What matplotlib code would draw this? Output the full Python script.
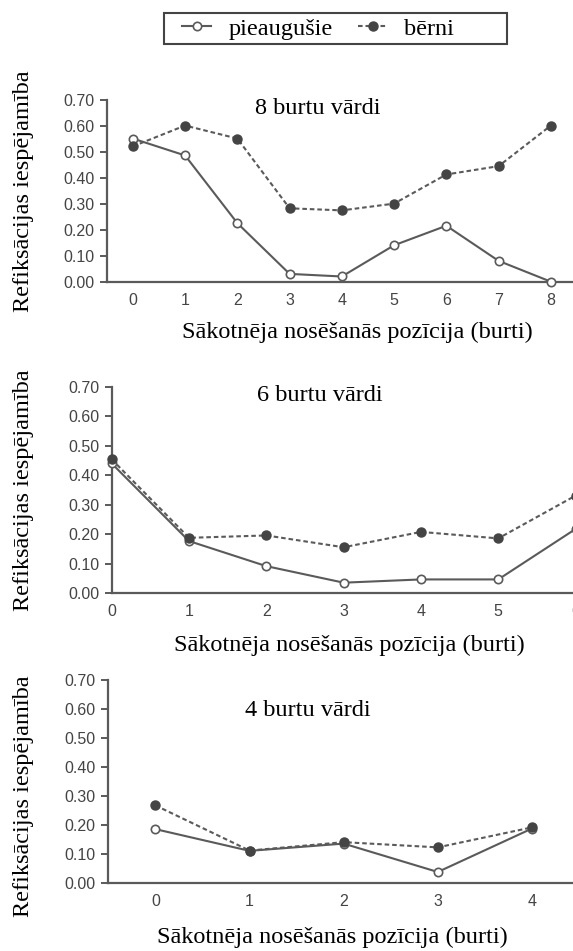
import matplotlib.pyplot as plt
from matplotlib.patches import Rectangle
from matplotlib.lines import Line2D

W, H = 573, 951

titles = ['8 burtu vārdi', '6 burtu vārdi', '4 burtu vārdi']
positions = [list(range(9)), list(range(7)), list(range(5))]
pieaugusie = [
    [0.55, 0.485, 0.225, 0.03, 0.02, 0.14, 0.215, 0.08, 0.0],
    [0.44, 0.177, 0.092, 0.036, 0.047, 0.047, 0.218],
    [0.185, 0.11, 0.135, 0.037, 0.187],
]
berni = [
    [0.52, 0.60, 0.55, 0.282, 0.274, 0.30, 0.412, 0.444, 0.60],
    [0.454, 0.188, 0.196, 0.156, 0.208, 0.186, 0.331],
    [0.267, 0.111, 0.14, 0.122, 0.191],
]
yticks = [0.0, 0.1, 0.2, 0.3, 0.4, 0.5, 0.6, 0.7]
ylabel = 'Refiksācijas iespējamība'
xlabel = 'Sākotnēja nosēšanās pozīcija (burti)'
legend_labels = ['pieaugušie', 'bērni']

# pixel boxes (left, top, right, bottom); right edges run past the canvas
boxes = [(106.7, 99.5, 577, 281.7), (111.7, 386.7, 575.6, 593.3), (108.3, 680, 579, 882.7)]
xlims = [(-0.5, 8.5), (0, 6), (-0.5, 4.5)]
title_xy = [(318, 108), (320, 395), (308, 710)]
xlabel_xy = [(357, 332), (349, 645), (332, 937)]
ylabel_y = [191, 490, 796]

serif = 'Liberation Serif'
sans = 'Liberation Sans'
gray = '#5a5a5a'
dark = '#444444'

fig = plt.figure(figsize=(W / 100, H / 100), dpi=100)

for i in range(3):
    l, t, r, b = boxes[i]
    ax = fig.add_axes([l / W, 1 - b / H, (r - l) / W, (b - t) / H])
    ax.plot(positions[i], pieaugusie[i], color=gray, lw=1.5, marker='o', ms=6,
            mfc='white', mec=gray, mew=1.2, clip_on=False, zorder=3)
    ax.plot(positions[i], berni[i], color=gray, lw=1.5, dashes=(2.2, 1.4), marker='o', ms=6.5,
            mfc=dark, mec=dark, clip_on=False, zorder=4)
    ax.set_xlim(xlims[i])
    ax.set_ylim(0, 0.7)
    ax.set_xticks(positions[i])
    ax.set_yticks(yticks)
    ax.set_yticklabels(['%.2f' % v for v in yticks])
    for s in ['top', 'right']:
        ax.spines[s].set_visible(False)
    for s in ['left', 'bottom']:
        ax.spines[s].set_color(gray)
        ax.spines[s].set_linewidth(1.6)
    ax.tick_params(axis='y', length=5, width=1.4, color=gray, pad=4,
                   labelsize=11.5, labelcolor=dark)
    ax.tick_params(axis='x', length=0, pad=8, labelsize=11.5, labelcolor=dark)
    for lab in ax.get_xticklabels() + ax.get_yticklabels():
        lab.set_fontfamily(sans)

    fig.text(title_xy[i][0] / W, 1 - title_xy[i][1] / H, titles[i], ha='center', va='center',
             fontsize=17.5, family=serif)
    fig.text(xlabel_xy[i][0] / W, 1 - xlabel_xy[i][1] / H, xlabel, ha='center', va='center',
             fontsize=17.5, family=serif)
    fig.text(24 / W, 1 - ylabel_y[i] / H, ylabel, ha='center', va='center', rotation=90,
             fontsize=17.5, family=serif)

handles = [
    Line2D([], [], color=gray, lw=1.5, marker='o', ms=6, mfc='white', mec=gray, mew=1.2),
    Line2D([], [], color=gray, lw=1.5, dashes=(2.2, 1.4), marker='o', ms=6.5, mfc=dark, mec=dark),
]
fig.legend(handles, legend_labels, loc='center left', bbox_to_anchor=(182 / W, 1 - 28.5 / H),
           ncol=2, frameon=False, numpoints=1, handlelength=1.2, handletextpad=0.7,
           columnspacing=1.05, borderpad=0, borderaxespad=0,
           prop={'family': serif, 'size': 17.5})
fig.patches.append(Rectangle((164 / W, 1 - 44 / H), 343 / W, 31 / H, transform=fig.transFigure,
                             fill=False, ec=dark, lw=1.5))

fig.savefig('out.png', dpi=100)
